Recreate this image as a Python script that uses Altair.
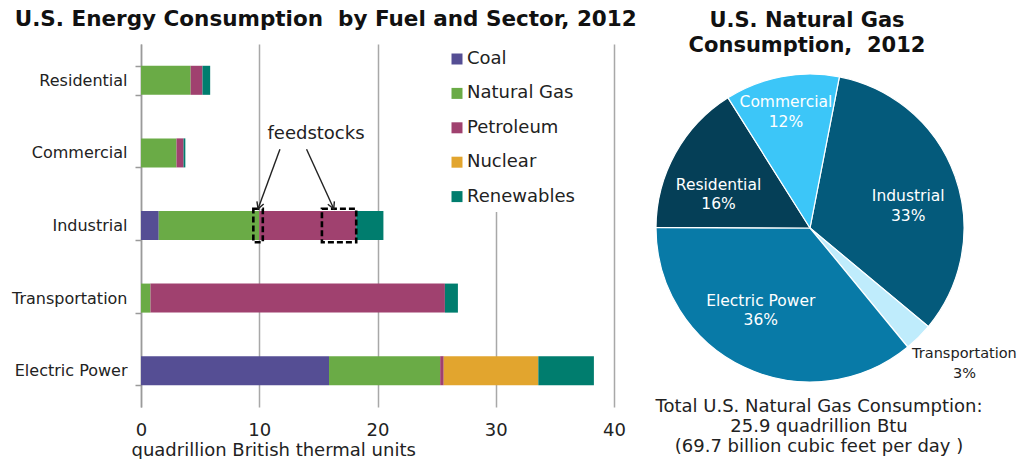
import math
import altair as alt
import pandas as pd

# ---------------- data: energy consumption by fuel and sector (quadrillion Btu)
sectors = ["Residential", "Commercial", "Industrial", "Transportation", "Electric Power"]
fuels = ["Coal", "Natural Gas", "Petroleum", "Nuclear", "Renewables"]
coal = [0.0, 0.0, 1.5, 0.0, 15.9]
natural_gas = [4.2, 3.0, 8.5, 0.8, 9.4]
petroleum = [1.0, 0.6, 8.2, 24.9, 0.3]
nuclear = [0.0, 0.0, 0.0, 0.0, 8.0]
renewables = [0.65, 0.15, 2.3, 1.1, 4.7]
x_ticks = [0, 10, 20, 30, 40]

# feedstocks annotation (in data units: x = quadrillion Btu, y = sector rows 0..5)
arrow_x = [11.75, 14.0]
arrow_y = [1.45, 1.45]
arrow_x2 = [9.9, 16.3]
arrow_y2 = [2.27, 2.27]
arrow_angle = [20, 336]
box_x = [9.5, 15.3]
box_x2 = [10.3, 18.2]
box_y = [2.27, 2.27]
box_y2 = [2.73, 2.73]
note_x = [14.8]
note_y = [1.24]
note_text = ["feedstocks"]

# ---------------- data: natural gas consumption by sector (%)
pie_sectors = ["Industrial", "Transportation", "Electric Power", "Residential", "Commercial"]
pie_pct = [33, 3, 36, 16, 12]
pie_title_lines = ["U.S. Natural Gas", "Consumption,\u00a0 2012"]
footer_lines = ["Total U.S. Natural Gas Consumption:",
                "25.9 quadrillion Btu",
                "(69.7 billion cubic feet per day )"]

# ---------------- styles
fuel_colors = ["#554E94", "#6AAB46", "#A0416F", "#E2A52E", "#007D6E"]
pie_colors = ["#045A7B", "#BFECFC", "#087AA7", "#053F57", "#3CC6F8"]
FONT = "DejaVu Sans"
NBSP = "\u00a0"

rows = []
series = [coal, natural_gas, petroleum, nuclear, renewables]
for i, s in enumerate(sectors):
    for j, f in enumerate(fuels):
        v = series[j][i]
        if v > 0:
            rows.append({"sector": s, "fuel": f, "value": v, "fuel_idx": j})
bar_df = pd.DataFrame(rows)

x_scale = alt.Scale(domain=[0, 40], nice=False, zero=True)
x_axis = alt.Axis(values=x_ticks, grid=True, gridColor="#a8a8a8", gridWidth=1.5,
                  domain=False, ticks=False, labelFont=FONT, labelFontSize=18,
                  labelColor="#222", labelPadding=14, labelFlush=False,
                  title="quadrillion British thermal units", titleFont=FONT,
                  titleFontSize=18, titleFontWeight="normal", titleColor="#222",
                  titlePadding=2, titleAnchor="start", titleAlign="left", titleX=-10)
y_axis = alt.Axis(title=None, labelFont=FONT, labelFontSize=16, labelColor="#222",
                  domainColor="#9a9a9a", domainWidth=1.5, tickColor="#9a9a9a",
                  tickWidth=1.5, tickBand="extent", tickSize=6, labelPadding=8,
                  minExtent=133, maxExtent=133, grid=False)
legend = alt.Legend(orient="none", legendX=301, legendY=0, fillColor="white", padding=6,
                    title=None, symbolType="square", symbolSize=121, symbolStrokeWidth=0,
                    labelFont=FONT, labelFontSize=18, labelColor="#222",
                    rowPadding=16.4, labelOffset=1)

bars = alt.Chart(bar_df).mark_bar().encode(
    x=alt.X("value:Q", stack="zero", scale=x_scale, axis=x_axis),
    y=alt.Y("sector:N", sort=sectors,
            scale=alt.Scale(paddingInner=0.6, paddingOuter=0.3), axis=y_axis),
    color=alt.Color("fuel:N", scale=alt.Scale(domain=fuels, range=fuel_colors), legend=legend),
    order=alt.Order("fuel_idx:Q"),
)

ann_y_scale = alt.Scale(domain=[0, 5], reverse=True, nice=False, zero=False)
arrows_df = pd.DataFrame({"ax": arrow_x, "ay": arrow_y, "ax2": arrow_x2, "ay2": arrow_y2,
                          "ang": arrow_angle})
boxes_df = pd.DataFrame({"ax": box_x, "ax2": box_x2, "ay": box_y, "ay2": box_y2})
note_df = pd.DataFrame({"ax": note_x, "ay": note_y, "t": note_text})

shafts = alt.Chart(arrows_df).mark_rule(color="#222", strokeWidth=1.4).encode(
    x=alt.X("ax:Q", scale=x_scale, axis=x_axis), x2="ax2:Q",
    y=alt.Y("ay:Q", scale=ann_y_scale, axis=None), y2="ay2:Q")
heads = alt.Chart(arrows_df).mark_point(
    shape="M-0.55,-1L0,0L0.55,-1", filled=False, color="#222", strokeWidth=1.4,
    size=170, opacity=1).encode(
    x=alt.X("ax2:Q", scale=x_scale, axis=x_axis),
    y=alt.Y("ay2:Q", scale=ann_y_scale, axis=None),
    angle=alt.Angle("ang:Q", scale=None))
boxes = alt.Chart(boxes_df).mark_rect(fillOpacity=0, stroke="#000", strokeWidth=2.6,
                                      strokeDash=[6, 3]).encode(
    x=alt.X("ax:Q", scale=x_scale, axis=x_axis), x2="ax2:Q",
    y=alt.Y("ay:Q", scale=ann_y_scale, axis=None), y2="ay2:Q")
note = alt.Chart(note_df).mark_text(font=FONT, fontSize=18, color="#222").encode(
    x=alt.X("ax:Q", scale=x_scale, axis=x_axis),
    y=alt.Y("ay:Q", scale=ann_y_scale, axis=None),
    text="t:N")

bar_chart = alt.layer(bars, boxes, shafts, heads, note).resolve_scale(
    y="independent").properties(
    width=473, height=363,
    title=alt.Title("U.S. Energy Consumption" + NBSP + " by Fuel and Sector, 2012",
                    font=FONT, fontSize=21.5, fontWeight="bold", color="#111",
                    anchor="middle", frame="bounds", offset=6, dx=9))

# ---------------- pie
pie_df = pd.DataFrame({"sector": pie_sectors, "pct": pie_pct,
                       "idx": list(range(len(pie_sectors)))})
start = math.radians(11)
theta_scale = alt.Scale(domain=[0, 100], range=[start, start + 2 * math.pi])
arcs = alt.Chart(pie_df).mark_arc(outerRadius=154, stroke="white", strokeWidth=1.2).encode(
    theta=alt.Theta("pct:Q", stack=True, scale=theta_scale),
    order=alt.Order("idx:Q"),
    color=alt.Color("sector:N", scale=alt.Scale(domain=pie_sectors, range=pie_colors),
                    legend=None))

label_base = alt.Chart(pie_df).transform_window(
    cum="sum(pct)", sort=[alt.SortField("idx")]).transform_calculate(
    mid="datum.cum - datum.pct / 2", lab="[datum.sector, datum.pct + '%']")


def label_layer(name, radius, dx, dy, color, size=15.5):
    return label_base.transform_filter(alt.datum.sector == name).mark_text(
        radius=radius, dx=dx, dy=dy, font=FONT, fontSize=size, lineHeight=19.5,
        color=color).encode(theta=alt.Theta("mid:Q", stack=None, scale=theta_scale),
                            text="lab:N")


labels = [
    label_layer("Industrial", 100, 4, 2, "white"),
    label_layer("Electric Power", 96, -8, -14, "white"),
    label_layer("Residential", 100, -4, 5, "white"),
    label_layer("Commercial", 120, -2, -8, "white"),
    label_layer("Transportation", 205, 10, -19, "#222", 14.5),
]

pie_title_df = pd.DataFrame({"t": [pie_title_lines]})
pie_title = alt.Chart(pie_title_df).mark_text(
    font=FONT, fontSize=21, fontWeight="bold", lineHeight=25, baseline="middle",
    color="#111").encode(x=alt.value(157), y=alt.value(-23), text="t")

footer_df = pd.DataFrame({"t": [footer_lines]})
footer = alt.Chart(footer_df).mark_text(font=FONT, fontSize=18, lineHeight=20,
                                         baseline="top", color="#222").encode(
    x=alt.value(169), y=alt.value(354), text="t")

pie_chart = alt.layer(arcs, *labels, pie_title, footer).properties(width=320, height=368)

chart = alt.hconcat(bar_chart, pie_chart, spacing=13).resolve_scale(
    color="independent", theta="independent").properties(
    padding=0, background="white").configure_view(stroke=None)

chart.save("out.html", embed_options={"renderer": "svg", "actions": False})
